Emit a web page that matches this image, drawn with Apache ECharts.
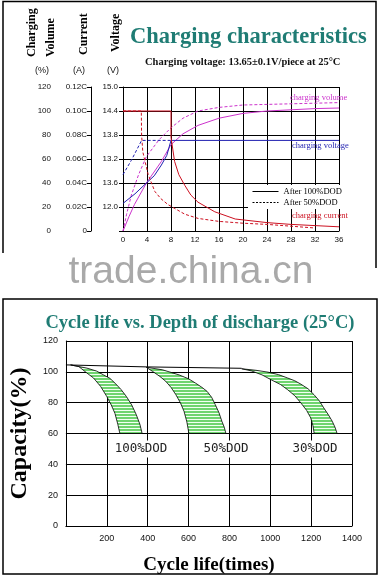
<!DOCTYPE html>
<html>
<head>
<meta charset="utf-8">
<script src="https://cdn.jsdelivr.net/npm/echarts@6/dist/echarts.min.js"></script>
<style>
html, body { margin: 0; padding: 0; background: #fff; }
#main { width: 379px; height: 576px; }
</style>
</head>
<body>
<div id="main"></div>
<script>
// top chart: charging characteristics (x = hours, y on the 0..120 volume scale)
const currentLabels = ['0', '0.02C', '0.04C', '0.06C', '0.08C', '0.10C', '0.12C']
const voltageLabels = ['', '12.0', '13.6', '13.2', '13.8', '14.4', '15.0']

const volume100 = [[0, 0], [1, 12], [1.9, 22], [3.9, 40], [6.4, 58], [8, 72], [10, 81], [12.5, 88], [16, 94], [20, 98], [24, 100], [28, 101], [32, 102], [36, 102.5]]
const volume50 = [[0, 0], [0.6, 14], [1.4, 30], [2.6, 47], [3.9, 62], [6, 76], [8, 86], [10, 94], [12.5, 100], [16, 103], [20, 105], [28, 106], [36, 107]]
const voltage100 = [[0, 23], [2, 31], [3.9, 40], [5.2, 46], [6.4, 55], [7.3, 63], [8, 75.5], [36, 75.5]]
const voltage50 = [[0, 47], [1.4, 59], [3.1, 75.5], [8, 75.5]]
const current100 = [[0, 100], [8, 100], [8, 78], [8.6, 58], [9.3, 47], [10.3, 38], [11.3, 30], [12.5, 24], [15.3, 16], [18.7, 10], [24, 7], [28, 5.5], [32, 4.5], [36, 3.5]]
const current50 = [[0, 100], [3.05, 100], [3.1, 80], [3.3, 66], [4.2, 47], [5.3, 33], [6.3, 27], [7.5, 22], [10.3, 14], [12.5, 10.5], [16, 8], [20, 6.5], [24, 5.5], [28, 4], [32, 2.5]]

// bottom chart: cycle life vs depth of discharge
const band100Upper = [[23, 104.5], [103, 102.4], [150, 100.5], [184, 98], [215, 95.8], [240, 92.7], [270, 88.5], [296, 84], [322, 78.5], [344, 72.3], [362, 66], [373, 60]]
const band100Lower = [[23, 104.5], [63, 103.4], [100, 99.5], [135, 96], [170, 90.5], [200, 84], [222, 78.5], [240, 73], [254, 66], [264, 60]]
const band50Upper = [[393, 103], [473, 101.3], [554, 98], [600, 95.5], [634, 92.7], [665, 90], [691, 87.3], [713, 83.5], [731, 78.7], [749, 73.5], [763, 68], [775, 64], [783, 60]]
const band50Lower = [[393, 103], [425, 100.2], [460, 97], [489, 93.8], [515, 89.8], [538, 85.2], [560, 80], [578, 74.4], [592, 67.5], [602, 60]]
const band30Upper = [[860, 102], [930, 101], [989, 99.8], [1040, 98.2], [1085, 96], [1120, 94.2], [1150, 92], [1185, 89], [1214, 85.2], [1240, 81.2], [1262, 76.6], [1285, 72], [1303, 68], [1317, 64], [1327, 60]]
const band30Lower = [[860, 102], [908, 100.6], [960, 98], [1005, 94.8], [1050, 91.8], [1085, 88.4], [1120, 84.5], [1150, 79.8], [1178, 75], [1198, 70.1], [1209, 65], [1215, 60]]
const startLine = [[0, 104.5], [393, 103.2], [860, 102.3]]

const TEAL = '#1f7c74'
const MAGENTA = '#cc33cc'
const BLUE = '#1f1fb0'
const RED = '#cc1020'
const SERIF = "'Liberation Serif', 'DejaVu Serif', serif"
const SANS = "'Liberation Sans', Arial, sans-serif"

// green hatch pattern for the bands
const hatch = document.createElement('canvas')
hatch.width = 4
hatch.height = 3
const hctx = hatch.getContext('2d')
hctx.fillStyle = '#f2fff2'
hctx.fillRect(0, 0, 4, 3)
hctx.fillStyle = '#6fd46f'
hctx.fillRect(0, 0, 4, 2)

function lineSeries(name, data, color, dashed) {
  return {
    name: name, type: 'line', xAxisIndex: 0, yAxisIndex: 0, data: data,
    symbol: 'none', smooth: false, animation: false,
    lineStyle: { color: color, width: 1, type: dashed ? [3, 2] : 'solid' }
  }
}

function bandSeries(upper, lower) {
  const pts = upper.concat(lower.slice().reverse())
  return {
    type: 'custom', xAxisIndex: 1, yAxisIndex: 3, data: pts, animation: false,
    renderItem: function (params, api) {
      if (params.dataIndex !== 0) return null
      return {
        type: 'polygon',
        shape: { points: pts.map(p => api.coord(p)) },
        style: { fill: { image: hatch, repeat: 'repeat' }, stroke: '#000', lineWidth: 0.8 }
      }
    }
  }
}

function vtext(str, x, y) {
  return { type: 'text', x: x, y: y, rotation: Math.PI / 2,
    style: { text: str, font: 'bold 12px ' + SERIF, fill: '#000', align: 'left', verticalAlign: 'middle' } }
}
function txt(str, x, y, font, fill, align, extra) {
  return { type: 'text', x: x, y: y, z: 10,
    style: Object.assign({ text: str, font: font, fill: fill, align: align || 'left', verticalAlign: 'middle' }, extra || {}) }
}

const chart = echarts.init(document.getElementById('main'))
const tickFont = { fontFamily: SANS, fontSize: 8, color: '#111' }
const dodFont = "12.5px 'DejaVu Sans Mono', monospace"
chart.setOption({
  animation: false,
  grid: [
    { left: 123, top: 87, width: 216, height: 144 },
    { left: 62, top: 341, width: 290, height: 186 }
  ],
  xAxis: [
    { type: 'value', gridIndex: 0, min: 0, max: 36, interval: 4,
      axisLine: { lineStyle: { color: '#000' } }, axisTick: { show: false },
      axisLabel: Object.assign({ margin: 5 }, tickFont),
      splitLine: { lineStyle: { color: '#000', width: 1 } } },
    { type: 'value', gridIndex: 1, min: 0, max: 1400, interval: 200,
      axisLine: { lineStyle: { color: '#000' } }, axisTick: { show: false },
      axisLabel: Object.assign({ margin: 8, formatter: v => v === 0 ? '' : v }, tickFont, { fontSize: 9 }),
      splitLine: { lineStyle: { color: '#000', width: 1 } },
      name: 'Cycle life(times)', nameLocation: 'middle', nameGap: 30,
      nameTextStyle: { fontFamily: SERIF, fontWeight: 'bold', fontSize: 19, color: '#000' } }
  ],
  yAxis: [
    { type: 'value', gridIndex: 0, position: 'left', min: 0, max: 120, interval: 20, offset: 68,
      axisLine: { show: true, lineStyle: { color: '#000' } },
      axisTick: { show: true, length: 4, lineStyle: { color: '#000' } },
      axisLabel: Object.assign({ margin: 4 }, tickFont),
      splitLine: { lineStyle: { color: '#000', width: 1 } } },
    { type: 'value', gridIndex: 0, position: 'left', min: 0, max: 6, interval: 1, offset: 32,
      axisLine: { show: true, lineStyle: { color: '#000' } },
      axisTick: { show: true, length: 4, lineStyle: { color: '#000' } },
      axisLabel: Object.assign({ margin: 4, formatter: v => currentLabels[v] }, tickFont),
      splitLine: { show: false } },
    { type: 'value', gridIndex: 0, position: 'left', min: 0, max: 6, interval: 1, offset: 0,
      axisLine: { show: false }, axisTick: { show: false },
      axisLabel: Object.assign({ margin: 5, formatter: v => voltageLabels[v] }, tickFont),
      splitLine: { show: false } },
    { type: 'value', gridIndex: 1, position: 'left', min: 0, max: 120, interval: 20,
      axisLine: { show: true, lineStyle: { color: '#000' } }, axisTick: { show: false },
      axisLabel: Object.assign({ margin: 8 }, tickFont, { fontSize: 9 }),
      splitLine: { lineStyle: { color: '#000', width: 1 } },
      name: 'Capacity(%)', nameLocation: 'middle', nameGap: 32,
      nameTextStyle: { fontFamily: SERIF, fontWeight: 'bold', fontSize: 24, color: '#000' } }
  ],
  legend: {
    left: 248, top: 185, orient: 'vertical', itemWidth: 26, itemHeight: 8, itemGap: 2,
    padding: [2, 4], backgroundColor: '#fff',
    textStyle: { fontFamily: SERIF, fontSize: 8.5, color: '#000' },
    data: [
      { name: 'After 100%DOD', itemStyle: { color: '#000', opacity: 0 }, lineStyle: { color: '#000', width: 1 } },
      { name: 'After 50%DOD', itemStyle: { color: '#000', opacity: 0 }, lineStyle: { color: '#000', width: 1, type: [2, 1.5] } }
    ]
  },
  series: [
    lineSeries('After 100%DOD', volume100, MAGENTA, false),
    lineSeries('After 50%DOD', volume50, MAGENTA, true),
    lineSeries('After 100%DOD', voltage100, BLUE, false),
    lineSeries('After 50%DOD', voltage50, BLUE, true),
    lineSeries('After 100%DOD', current100, RED, false),
    lineSeries('After 50%DOD', current50, RED, true),
    bandSeries(band100Upper, band100Lower),
    bandSeries(band50Upper, band50Lower),
    bandSeries(band30Upper, band30Lower),
    { type: 'line', xAxisIndex: 1, yAxisIndex: 3, data: startLine, symbol: 'none', z: 3,
      lineStyle: { color: '#000', width: 1 } }
  ],
  graphic: [
    { type: 'polyline', shape: { points: [[3, 253], [3, 1.5], [376, 1.5], [376, 268]] }, style: { stroke: '#000', fill: null, lineWidth: 1.5 } },
    { type: 'rect', shape: { x: 3, y: 299, width: 374, height: 275 }, style: { stroke: '#000', fill: null, lineWidth: 1.5 } },
    vtext('Charging', 32, 57),
    vtext('Volume', 51, 57),
    vtext('Current', 84, 55),
    vtext('Voltage', 116, 52),
    txt('(%)', 42, 71, '9px ' + SANS, '#111', 'center'),
    txt('(A)', 79, 71, '9px ' + SANS, '#111', 'center'),
    txt('(V)', 113, 71, '9px ' + SANS, '#111', 'center'),
    txt('Charging characteristics', 130, 37, 'bold 22.5px ' + SERIF, TEAL),
    txt('Charging voltage: 13.65\u00b10.1V/piece at 25\u00b0C', 145, 62, 'bold 10.5px ' + SERIF, '#111'),
    txt('charging volume', 290, 98, '8.5px ' + SERIF, MAGENTA),
    txt('charging voltage', 292, 146, '8.5px ' + SERIF, BLUE),
    txt('charging current', 292, 216, '8.5px ' + SERIF, RED),
    txt('trade.china.cn', 191, 272, '39px ' + SANS, '#a9a9a9', 'center'),
    txt('Cycle life vs. Depth of discharge (25\u00b0C)', 200, 323, 'bold 18.5px ' + SERIF, TEAL, 'center'),
    txt('100%DOD', 141, 449, dodFont, '#222', 'center', { backgroundColor: '#fff', padding: [2, 3] }),
    txt('50%DOD', 226, 449, dodFont, '#222', 'center', { backgroundColor: '#fff', padding: [2, 3] }),
    txt('30%DOD', 315, 449, dodFont, '#222', 'center', { backgroundColor: '#fff', padding: [2, 3] })
  ]
})
</script>
</body>
</html>
